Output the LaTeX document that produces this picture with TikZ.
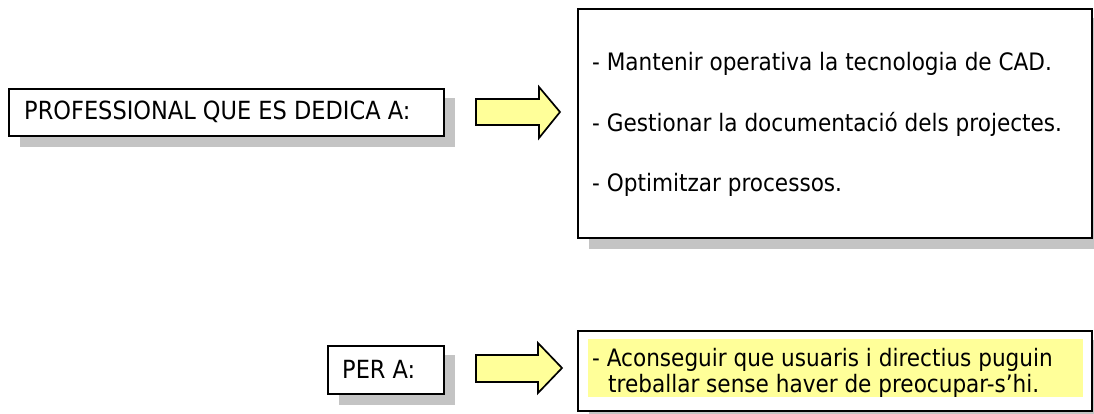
\documentclass[tikz,border=0pt]{standalone}
\usepackage{fontspec}
\setmainfont{DejaVu Sans Condensed}
\usetikzlibrary{backgrounds}
\definecolor{shadowgray}{RGB}{196,196,196}
\definecolor{paleyellow}{RGB}{255,255,153}
\begin{document}
\begin{tikzpicture}[x=1pt,y=-1pt,
  box/.style={draw=black, line width=2pt, fill=white, inner sep=0pt, anchor=north west},
  boxshadow/.style={fill=shadowgray},
  blockarrow/.style={draw=black, line width=1.7pt, fill=paleyellow, line join=miter},
  txt/.style={anchor=base west, inner sep=0pt, font=\fontsize{24}{28}\selectfont},
  captxt/.style={anchor=base west, inner sep=0pt, font=\fontsize{25}{30}\selectfont}]
\useasboundingbox (0,0) rectangle (1094,414);

% boxes
\node[box, minimum width=435pt, minimum height=47pt] (b1) at (8,88) {};
\node[box, minimum width=514pt, minimum height=229pt] (b2) at (577,8) {};
\node[box, minimum width=116pt, minimum height=48pt] (b3) at (327,345) {};
\node[box, minimum width=514pt, minimum height=80pt] (b4) at (577,330) {};

% shadows
\begin{pgfonlayer}{background}
  \foreach \b in {b1,b2,b3,b4}
    \fill[boxshadow] ([xshift=12pt,yshift=-10pt]\b.north west) rectangle ([xshift=10pt,yshift=-10pt]\b.south east);
\end{pgfonlayer}

% highlight
\fill[paleyellow] (588,339) rectangle (1083,397);

% texts
\node[captxt] (t1) at (24,120) {PROFESSIONAL QUE ES DEDICA A:};
\node[captxt] (t3) at (342,378) {PER A:};
\node[txt] (l1) at (592,71) {- Mantenir operativa la tecnologia de CAD.};
\node[txt] (l2) at (592,132) {- Gestionar la documentació dels projectes.};
\node[txt] (l3) at (592,191) {- Optimitzar processos.};
\node[txt] (l4) at (592,366) {- Aconseguir que usuaris i directius puguin};
\node[txt] (l5) at (608,392) {treballar sense haver de preocupar-s’hi.};

% block arrows
\draw[blockarrow] (476,99) -- (539,99) -- (539,87) -- (560,112) -- (539,138) -- (539,125) -- (476,125) -- cycle;
\draw[blockarrow] (476,355) -- (538,355) -- (538,343) -- (562,368) -- (538,393) -- (538,382) -- (476,382) -- cycle;
\end{tikzpicture}
\end{document}
